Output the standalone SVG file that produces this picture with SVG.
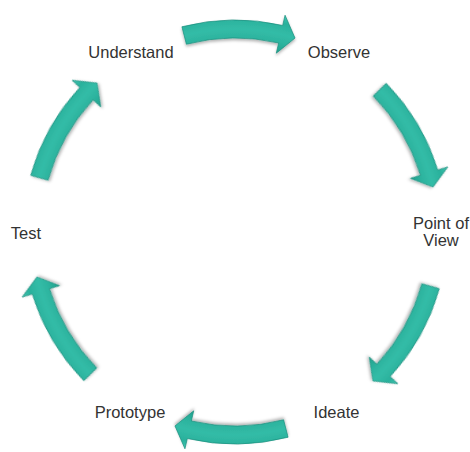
<svg xmlns="http://www.w3.org/2000/svg" width="470" height="452" viewBox="0 0 470 452">
  <style>
    .lbl { font-family: "Liberation Sans", Arial, sans-serif; font-size: 16.5px; fill: #333333; text-anchor: middle; }
    .arrow { fill: url(#tube); stroke: #1a8e7c; stroke-width: 0.7; filter: url(#shadow); }
  </style>
  <defs>
    <!-- band shading across the arrow width (arrows follow a circle of radius 203) -->
    <radialGradient id="tube" gradientUnits="userSpaceOnUse" cx="0" cy="0" r="223">
      <stop offset="0.82" stop-color="#1f9f8b"/>
      <stop offset="0.87" stop-color="#2cb39e"/>
      <stop offset="0.91" stop-color="#33bca7"/>
      <stop offset="0.96" stop-color="#2ab19c"/>
      <stop offset="1" stop-color="#43c8b3"/>
    </radialGradient>
    <filter id="shadow" x="-20%" y="-20%" width="140%" height="140%">
      <feDropShadow dx="0" dy="2" stdDeviation="1.5" flood-color="#000" flood-opacity="0.3"/>
    </filter>
    <!-- curved arrow on the top of the ring, centred on the origin -->
    <path id="ringArrow" d="M -53.08,-205.24 A 212 212 0 0 1 47.70,-206.57 L 50.06,-216.80 L 60.03,-193.93 L 41.29,-178.80 L 43.65,-189.03 A 194 194 0 0 0 -48.58,-187.81 Z"/>
  </defs>

  <g id="connectors" transform="translate(235,232)">
    <use href="#ringArrow" class="arrow" transform="rotate(0)"/>
    <use href="#ringArrow" class="arrow" transform="rotate(60)"/>
    <use href="#ringArrow" class="arrow" transform="rotate(120)"/>
    <use href="#ringArrow" class="arrow" transform="rotate(180)"/>
    <use href="#ringArrow" class="arrow" transform="rotate(240)"/>
    <use href="#ringArrow" class="arrow" transform="rotate(300)"/>
  </g>

  <g id="understand"><text class="lbl" x="131" y="58.3">Understand</text></g>
  <g id="observe"><text class="lbl" x="339" y="58.3">Observe</text></g>
  <g id="point-of-view">
    <text class="lbl" x="441" y="228.5">Point of</text>
    <text class="lbl" x="441" y="246">View</text>
  </g>
  <g id="ideate"><text class="lbl" x="336.5" y="418.3">Ideate</text></g>
  <g id="prototype"><text class="lbl" x="130" y="418.3">Prototype</text></g>
  <g id="test"><text class="lbl" x="26" y="239">Test</text></g>
</svg>
